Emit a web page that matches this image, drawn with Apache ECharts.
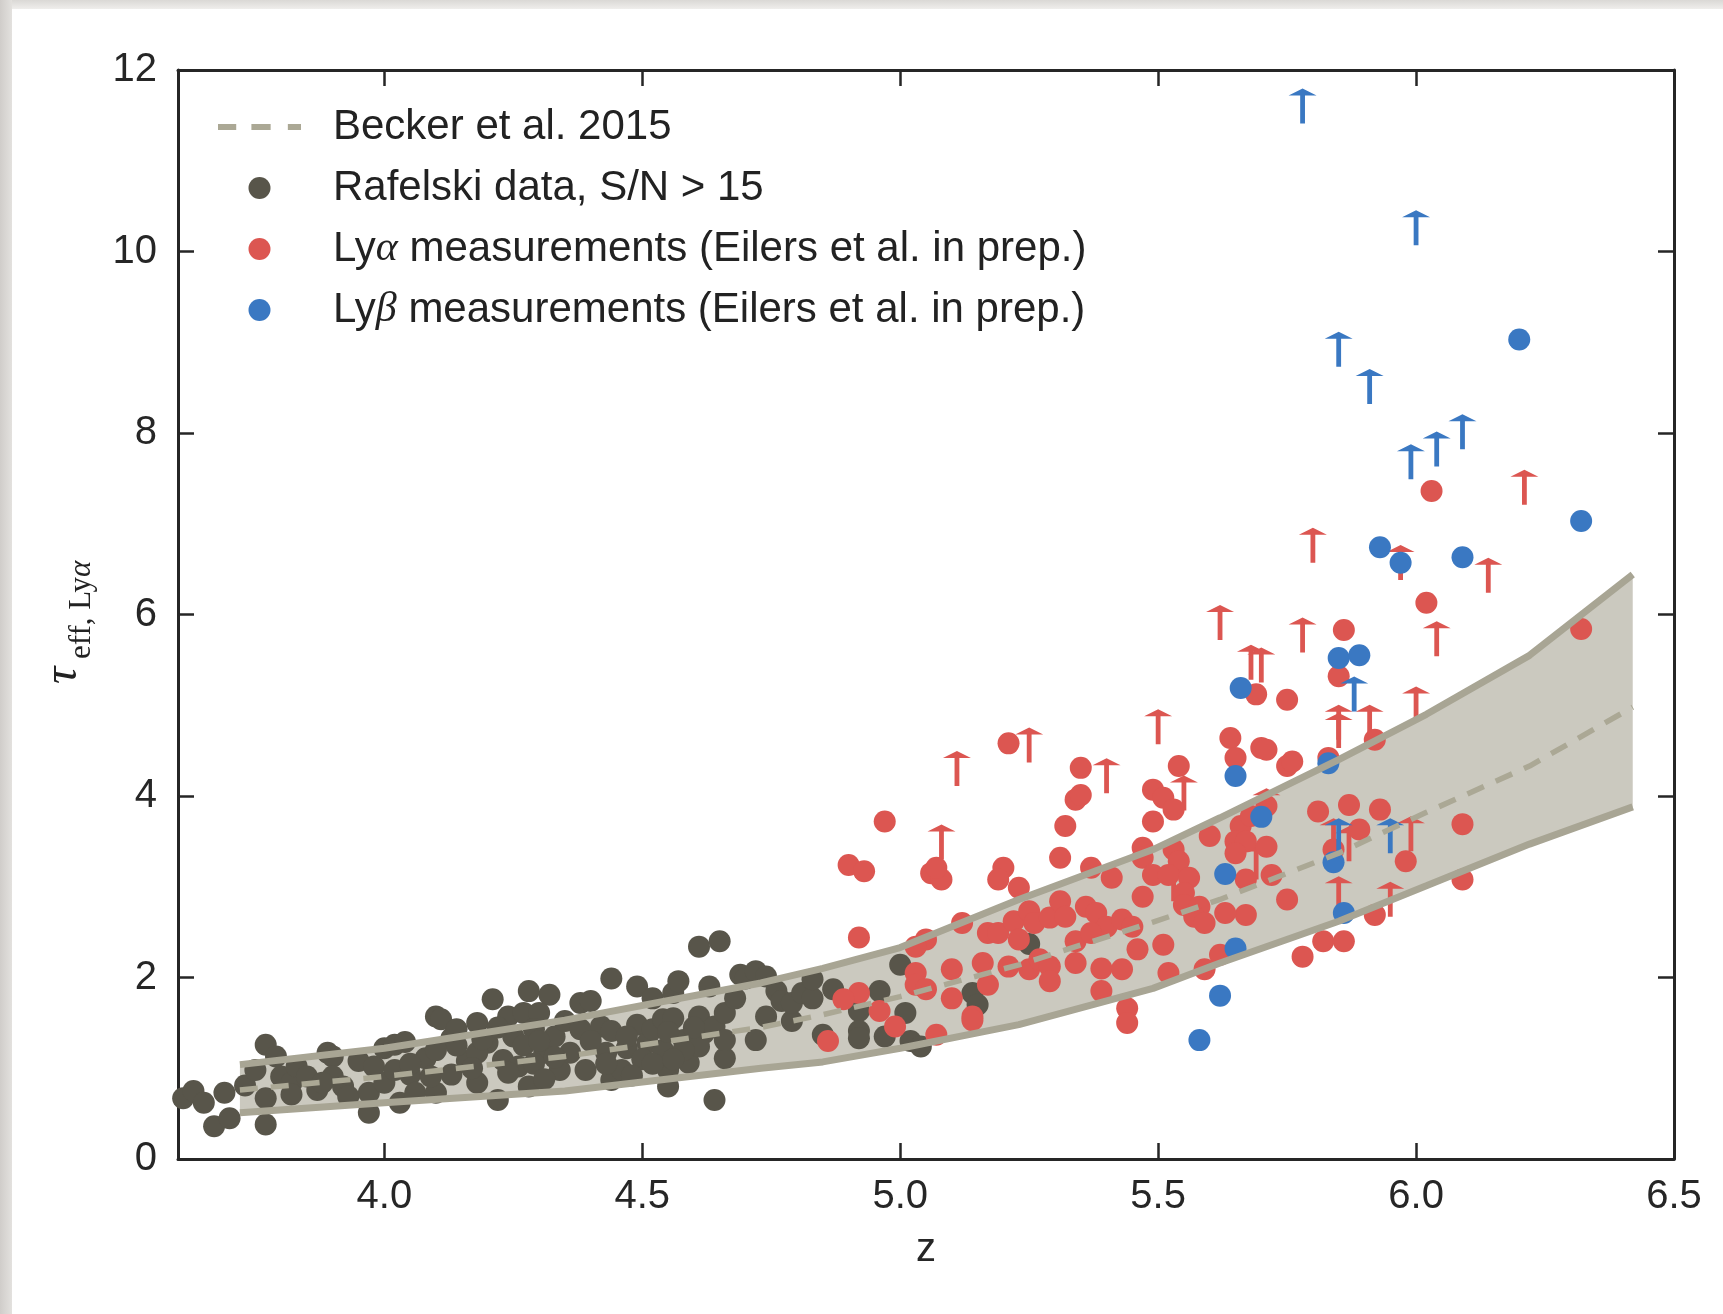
<!DOCTYPE html>
<html><head><meta charset="utf-8">
<script src="https://cdn.jsdelivr.net/npm/echarts@6/dist/echarts.min.js"></script>
<style>
html,body{margin:0;padding:0;background:#fff;overflow:hidden;}
#stripTop{position:absolute;left:0;top:0;width:1723px;height:9px;background:linear-gradient(#dad8d5,#efeeec);}
#stripLeft{position:absolute;left:0;top:0;width:12px;height:1314px;background:linear-gradient(90deg,#d0cdca,#e3e1de);}
#chart{position:absolute;left:0;top:0;width:1723px;height:1314px;}
</style></head><body>
<div id="stripTop"></div><div id="stripLeft"></div>
<div id="chart"></div>
<script>
// ---- data ----
const xTicks = [4.0, 4.5, 5.0, 5.5, 6.0, 6.5];
const yTicks = [0, 2, 4, 6, 8, 10, 12];

const bandZ     = [3.72, 4.00, 4.35, 4.73, 4.85, 5.00, 5.23, 5.49, 5.62, 5.85, 6.02, 6.22, 6.42];
const bandUpper = [1.04, 1.22, 1.53, 1.94, 2.10, 2.33, 2.86, 3.41, 3.76, 4.40, 4.90, 5.55, 6.44];
const bandLower = [0.51, 0.62, 0.75, 1.00, 1.07, 1.22, 1.48, 1.88, 2.16, 2.62, 3.01, 3.47, 3.88];
const bandMid   = [0.76, 0.91, 1.13, 1.45, 1.59, 1.79, 2.14, 2.61, 2.86, 3.37, 3.82, 4.33, 4.98];

const rafelski = [
[3.61,0.67],[3.63,0.75],[3.65,0.62],[3.69,0.73],[3.67,0.36],[3.70,0.45],[3.73,0.81],[3.75,0.98],[3.77,1.26],[3.79,1.13],
[3.77,0.67],[3.77,0.38],[3.80,0.91],[3.82,0.84],[3.82,0.71],[3.83,1.02],[3.85,0.91],[3.87,0.76],[3.89,1.17],[3.90,1.13],
[3.90,0.91],[3.88,0.84],[3.92,0.80],[3.93,0.69],[3.95,1.08],[3.97,0.73],[3.97,0.51],[3.98,1.02],[4.00,1.22],[4.02,1.26],
[4.04,1.29],[4.00,0.84],[4.02,0.98],[4.03,0.62],[4.05,0.93],[4.06,0.73],[4.08,1.11],[4.10,0.73],[4.10,1.57],[4.11,1.54],
[4.09,0.91],[4.13,1.33],[4.13,0.93],[4.14,1.43],[4.16,1.08],[4.18,0.84],[4.18,1.50],[4.21,1.76],[4.22,0.65],[4.20,1.28],
[4.23,1.09],[4.24,1.57],[4.28,1.85],[4.32,1.81],[4.27,1.61],[4.30,1.61],[4.29,1.43],[4.28,0.80],[4.31,1.17],[4.33,1.35],
[4.34,0.98],[4.35,1.52],[4.36,1.17],[4.25,1.35],[4.26,1.02],[4.18,1.17],
[4.14,1.25],[4.19,1.32],[4.22,1.45],[4.27,1.25],[4.30,1.30],[4.33,1.12],[4.24,0.95],[4.29,1.05],[4.31,0.88],[4.05,1.05],
[4.10,1.20],[4.17,1.00],
[4.38,1.72],[4.40,1.74],[4.38,1.43],[4.39,0.98],[4.42,1.46],[4.44,1.41],[4.43,1.17],[4.44,1.99],[4.44,0.87],[4.47,1.22],
[4.46,0.98],[4.49,1.90],[4.49,1.48],[4.51,1.28],[4.52,1.43],[4.52,1.77],[4.54,1.54],[4.54,1.20],[4.55,0.98],[4.55,0.80],
[4.56,1.83],[4.57,1.96],[4.56,1.55],[4.58,1.31],[4.59,1.06],[4.61,2.34],[4.65,2.40],[4.63,1.90],[4.61,1.57],[4.62,1.39],
[4.61,1.24],[4.64,1.46],[4.66,1.11],[4.66,1.61],[4.66,1.31],[4.64,0.65],[4.68,1.77],[4.69,2.03],[4.70,1.99],[4.72,2.07],
[4.74,2.01],[4.72,1.31],[4.74,1.57],[4.76,1.85],[4.77,1.74],[4.79,1.52],[4.79,1.72],[4.81,1.83],[4.83,1.77],[4.83,1.98],
[4.85,1.37],[4.87,1.87],[4.92,1.63],[4.92,1.41],[4.92,1.33],[4.96,1.85],[4.97,1.35],[5.00,2.14],[5.01,1.61],[5.02,1.30],
[5.04,1.24],[5.14,1.83],[5.15,1.70],[5.25,2.37],
[4.47,1.35],[4.50,1.10],[4.55,1.40],[4.58,1.20],[4.60,1.45],[4.52,1.05],[4.40,1.30],[4.43,1.05],[4.56,1.10],[4.48,0.92]
];

const lyaPoints = [
[4.97,3.72],[4.90,3.24],[4.93,3.17],[4.92,2.44],[5.06,3.15],[5.08,3.08],[5.07,3.21],[5.21,4.58],[5.20,3.21],[5.19,3.08],
[5.23,2.99],[5.35,4.31],[5.34,3.96],[5.35,4.01],[5.32,3.67],[5.31,3.32],[5.54,4.33],[5.49,4.07],[5.51,3.98],[5.53,3.85],
[5.49,3.72],[5.60,3.56],[5.47,3.43],[5.47,3.32],[5.53,3.41],[5.54,3.28],[5.37,3.21],[5.41,3.10],[5.49,3.13],[5.52,3.13],
[5.56,3.10],[5.47,2.89],[5.55,2.93],[5.55,2.80],[5.58,2.78],[5.57,2.67],[5.59,2.60],[5.05,2.42],[5.03,2.34],[5.12,2.60],
[5.17,2.49],[5.19,2.49],[5.22,2.62],[5.25,2.73],[5.26,2.60],[5.23,2.42],[5.29,2.66],[5.31,2.84],[5.32,2.67],[5.36,2.78],
[5.38,2.71],[5.40,2.56],[5.43,2.64],[5.45,2.56],[5.34,2.40],[5.37,2.49],[5.46,2.31],[5.51,2.36],[5.03,2.05],[5.03,1.92],
[5.05,1.87],[5.10,2.09],[5.10,1.77],[5.14,1.57],[5.14,1.53],[5.17,1.92],[5.16,2.16],[5.21,2.12],[5.25,2.09],[5.27,2.20],
[5.29,2.12],[5.29,1.96],[5.34,2.16],[5.39,2.10],[5.43,2.09],[5.39,1.85],[5.44,1.66],[5.44,1.50],[5.52,2.05],[5.59,2.09],
[4.92,1.83],[4.89,1.76],[4.96,1.63],[4.99,1.46],[4.86,1.30],[5.07,1.37],
[6.02,6.13],[5.86,5.83],[5.85,5.32],[5.69,5.12],[5.75,5.06],[5.64,4.64],[5.70,4.53],[5.71,4.51],[5.65,4.42],[5.75,4.33],
[5.76,4.38],[5.83,4.42],[5.92,4.62],[5.81,3.83],[5.87,3.90],[5.93,3.85],[5.89,3.63],[5.71,3.89],[5.66,3.67],[5.68,3.78],
[5.65,3.50],[5.67,3.50],[5.65,3.37],[5.71,3.44],[5.72,3.13],[5.67,3.08],[5.84,3.41],[5.98,3.28],[5.75,2.86],[5.67,2.69],
[5.63,2.71],[5.62,2.25],[5.82,2.40],[5.86,2.40],[5.78,2.23],[5.92,2.69],
[6.09,3.69],[6.09,3.08],[6.32,5.84],[6.03,7.36]
];

const lyaLimits = [
[5.11,4.11],[5.25,4.37],[5.40,4.03],[5.50,4.57],[5.55,3.84],[5.08,3.30],[5.62,5.72],[5.78,5.58],[5.68,5.28],[5.70,5.25],
[6.04,5.54],[5.85,4.62],[5.85,4.53],[5.91,4.62],[6.00,4.82],[5.71,3.70],[5.69,3.08],[5.84,3.37],[5.87,3.28],[5.99,3.39],
[5.85,2.73],[5.95,2.67],[5.53,2.84],[6.21,7.21],[5.80,6.57],[5.97,6.38],[6.14,6.24]
];

const lybPoints = [
[5.93,6.74],[5.97,6.57],[6.09,6.63],[6.20,9.03],[6.32,7.03],[5.85,5.52],[5.89,5.55],[5.66,5.19],[5.83,4.36],[5.65,4.22],
[5.70,3.77],[5.84,3.27],[5.63,3.14],[5.86,2.71],[5.65,2.32],[5.62,1.80],[5.58,1.31]
];

const lybLimits = [
[5.78,11.41],[6.00,10.07],[5.85,8.73],[5.91,8.32],[5.99,7.49],[6.04,7.63],[6.09,7.82],[5.88,4.93],[5.85,3.37],[5.95,3.37]
];

// ---- names / styles ----
const N_BECKER = 'Becker et al. 2015';
const N_RAF = 'Rafelski data, S/N > 15';
const N_LYA = 'Lyα measurements (Eilers et al. in prep.)';
const N_LYB = 'Lyβ measurements (Eilers et al. in prep.)';

const C_DARK = '#58554a', C_RED = '#dc5651', C_BLUE = '#3a78c2';
const C_FILL = '#cbc9bf', C_EDGE = '#a8a594', C_MID = '#aba895', C_AX = '#262626';
const SANS = '"Liberation Sans", Arial, Helvetica, sans-serif';
const SERIF = '"Liberation Serif", "DejaVu Serif", serif';

const DOT = 22;
const arrowPath = 'path://M0,7L14,0L28,7Z M11.6,6H16.4V35H11.6Z';
const dashIcon = 'path://M0,7h18v6h-18z M33,7h19v6h-19z M69,7h13v6h-13z M0,0h0.05v0.05h-0.05z M0,19.95h0.05v0.05h-0.05z';

const zip = (a, b) => a.map((v, i) => [v, b[i]]);

const chart = echarts.init(document.getElementById('chart'), null, {renderer: 'canvas'});

const axisCommon = {
  axisLine: {show: true, onZero: false, lineStyle: {color: C_AX, width: 3}},
  axisTick: {show: true, inside: true, length: 16, lineStyle: {color: C_AX, width: 2.5}},
  splitLine: {show: false}
};

const option = {
  animation: false,
  backgroundColor: 'transparent',
  grid: {left: 178, top: 70, width: 1496, height: 1089, containLabel: false},
  xAxis: [
    Object.assign({}, axisCommon, {
      type: 'value', position: 'bottom', min: 3.6, max: 6.5,
      axisTick: Object.assign({}, axisCommon.axisTick, {customValues: xTicks}),
      axisLabel: {customValues: xTicks, formatter: v => v.toFixed(1), fontSize: 40, fontFamily: SANS, color: C_AX, margin: 18},
      name: 'z', nameLocation: 'middle', nameGap: 71,
      nameTextStyle: {fontSize: 40, fontFamily: SANS, color: C_AX}
    }),
    Object.assign({}, axisCommon, {
      type: 'value', position: 'top', min: 3.6, max: 6.5,
      axisTick: Object.assign({}, axisCommon.axisTick, {customValues: xTicks}),
      axisLabel: {show: false, customValues: xTicks}
    })
  ],
  yAxis: [
    Object.assign({}, axisCommon, {
      type: 'value', position: 'left', min: 0, max: 12, interval: 2,
      axisLabel: {fontSize: 40, fontFamily: SANS, color: C_AX, margin: 21}
    }),
    Object.assign({}, axisCommon, {
      type: 'value', position: 'right', min: 0, max: 12, interval: 2,
      axisLabel: {show: false}
    })
  ],
  legend: {
    orient: 'vertical', left: 213, top: 101,
    itemWidth: 83, itemHeight: 22, itemGap: 19,
    selectedMode: false,
    data: [
      {name: N_BECKER, icon: dashIcon, itemStyle: {color: C_MID}},
      {name: N_RAF, icon: 'circle'},
      {name: N_LYA, icon: 'circle'},
      {name: N_LYB, icon: 'circle'}
    ],
    formatter: function (name) {
      if (name === N_LYA) return '{sp|}{n|Ly}{g|α}{n| measurements (Eilers et al. in prep.)}';
      if (name === N_LYB) return '{sp|}{n|Ly}{g|β}{n| measurements (Eilers et al. in prep.)}';
      return '{sp|}{n|' + name + '}';
    },
    textStyle: {
      fontSize: 42, fontFamily: SANS, color: '#222',
      rich: {
        sp: {width: 27, lineHeight: 40},
        n: {fontSize: 42, fontFamily: SANS, color: '#222', lineHeight: 40},
        g: {fontSize: 42, fontFamily: SERIF, fontStyle: 'italic', color: '#222', lineHeight: 40}
      }
    }
  },
  graphic: [
    {type: 'text', x: 63, y: 684, rotation: Math.PI / 2,
     style: {text: 'τ', font: 'italic 48px ' + SERIF, fill: '#222', textAlign: 'left', textVerticalAlign: 'middle'}},
    {type: 'text', x: 82, y: 659, rotation: Math.PI / 2,
     style: {text: '{a|eff, Ly}{b|α}', textAlign: 'left', textVerticalAlign: 'middle',
       rich: {a: {fontSize: 31, fontFamily: SERIF, fill: '#222', color: '#222'},
              b: {fontSize: 31, fontFamily: SERIF, fontStyle: 'italic', fill: '#222', color: '#222'}}}}
  ],
  series: [
    {
      type: 'custom', name: 'band', silent: true,
      data: bandZ.map((z, i) => [z, bandUpper[i], bandLower[i]]),
      encode: {x: 0, y: [1, 2]},
      renderItem: function (params, api) {
        if (params.dataIndex !== 0) return null;
        const pts = [];
        for (let i = 0; i < bandZ.length; i++) pts.push(api.coord([bandZ[i], bandUpper[i]]));
        for (let i = bandZ.length - 1; i >= 0; i--) pts.push(api.coord([bandZ[i], bandLower[i]]));
        return {type: 'polygon', shape: {points: pts}, style: {fill: C_FILL}};
      }
    },
    {type: 'line', name: 'band upper', data: zip(bandZ, bandUpper), symbol: 'none', silent: true,
     lineStyle: {color: C_EDGE, width: 7, cap: 'butt'}, itemStyle: {color: C_EDGE}},
    {type: 'line', name: 'band lower', data: zip(bandZ, bandLower), symbol: 'none', silent: true,
     lineStyle: {color: C_EDGE, width: 7, cap: 'butt'}, itemStyle: {color: C_EDGE}},
    {type: 'line', name: N_BECKER, data: zip(bandZ, bandMid), symbol: 'none', silent: true,
     lineStyle: {color: C_MID, width: 5.5, type: [18, 13], cap: 'butt'}, itemStyle: {color: C_MID}},
    {type: 'scatter', name: N_RAF, data: rafelski, symbol: 'circle', symbolSize: DOT,
     itemStyle: {color: C_DARK, opacity: 1}},
    {type: 'scatter', name: 'Lyα lower limits', data: lyaLimits, symbol: arrowPath, symbolSize: [28, 35],
     symbolOffset: [0, -17.5], itemStyle: {color: C_RED, opacity: 1}},
    {type: 'scatter', name: N_LYA, data: lyaPoints, symbol: 'circle', symbolSize: DOT,
     itemStyle: {color: C_RED, opacity: 1}},
    {type: 'scatter', name: 'Lyβ lower limits', data: lybLimits, symbol: arrowPath, symbolSize: [28, 35],
     symbolOffset: [0, -17.5], itemStyle: {color: C_BLUE, opacity: 1}},
    {type: 'scatter', name: N_LYB, data: lybPoints, symbol: 'circle', symbolSize: DOT,
     itemStyle: {color: C_BLUE, opacity: 1}}
  ]
};
chart.setOption(option);
</script></body></html>
